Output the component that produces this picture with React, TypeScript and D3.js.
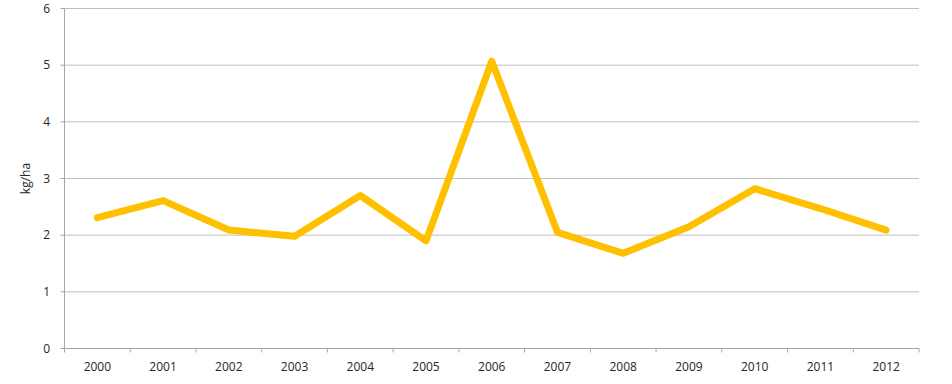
import React from "react";
import * as d3 from "d3";

const years = ["2000","2001","2002","2003","2004","2005","2006","2007","2008","2009","2010","2011","2012"];
const values = [2.31, 2.61, 2.09, 1.98, 2.7, 1.9, 5.07, 2.05, 1.68, 2.15, 2.82, 2.47, 2.09];
const yTicks = [0, 1, 2, 3, 4, 5, 6];
const yTitle = "kg/ha";

export default function App() {
  const W = 952, H = 384;
  const left = 64.5, right = 919, top = 8.5, bottom = 348.5;
  const x = d3.scaleBand<string>().domain(years).range([left, right]);
  const y = d3.scaleLinear().domain([0, 6]).range([bottom, top]);
  const line = d3.line<number>()
    .x((_, i) => (x(years[i]) as number) + x.bandwidth() / 2)
    .y((d) => y(d));
  const font = "'Open Sans', 'Liberation Sans', Arial, sans-serif";
  const boundaries = years.map((yr) => x(yr) as number).concat([right]);
  return (
    <svg width={W} height={H} style={{ position: "absolute", left: 0, top: 0 }}>
      <rect width={W} height={H} fill="#fff" />
      {yTicks.map((t) => (
        <g key={t}>
          {t > 0 && <line x1={left} x2={right} y1={y(t)} y2={y(t)} stroke="#bfbfbf" strokeWidth={1} />}
          <line x1={left - 4} x2={left} y1={y(t)} y2={y(t)} stroke="#a6a6a6" strokeWidth={1} />
          <text x={50} y={y(t)} dy="0.36em" textAnchor="end" fontFamily={font} fontSize={12} fill="#262626">{t}</text>
        </g>
      ))}
      <line x1={left} x2={left} y1={top} y2={bottom} stroke="#a6a6a6" strokeWidth={1} />
      <line x1={left} x2={right} y1={bottom} y2={bottom} stroke="#a6a6a6" strokeWidth={1} />
      {boundaries.map((bx, i) => (
        <line key={i} x1={bx} x2={bx} y1={bottom} y2={bottom + 4} stroke="#a6a6a6" strokeWidth={1} />
      ))}
      {years.map((yr) => (
        <text key={yr} x={(x(yr) as number) + x.bandwidth() / 2} y={371} textAnchor="middle" fontFamily={font} fontSize={12} fill="#262626">{yr}</text>
      ))}
      <text transform={`translate(30,${(top + bottom) / 2}) rotate(-90)`} textAnchor="middle" fontFamily={font} fontSize={12} fill="#262626">{yTitle}</text>
      <path d={line(values) || ""} fill="none" stroke="#ffc000" strokeWidth={7} strokeLinejoin="round" strokeLinecap="round" />
    </svg>
  );
}
